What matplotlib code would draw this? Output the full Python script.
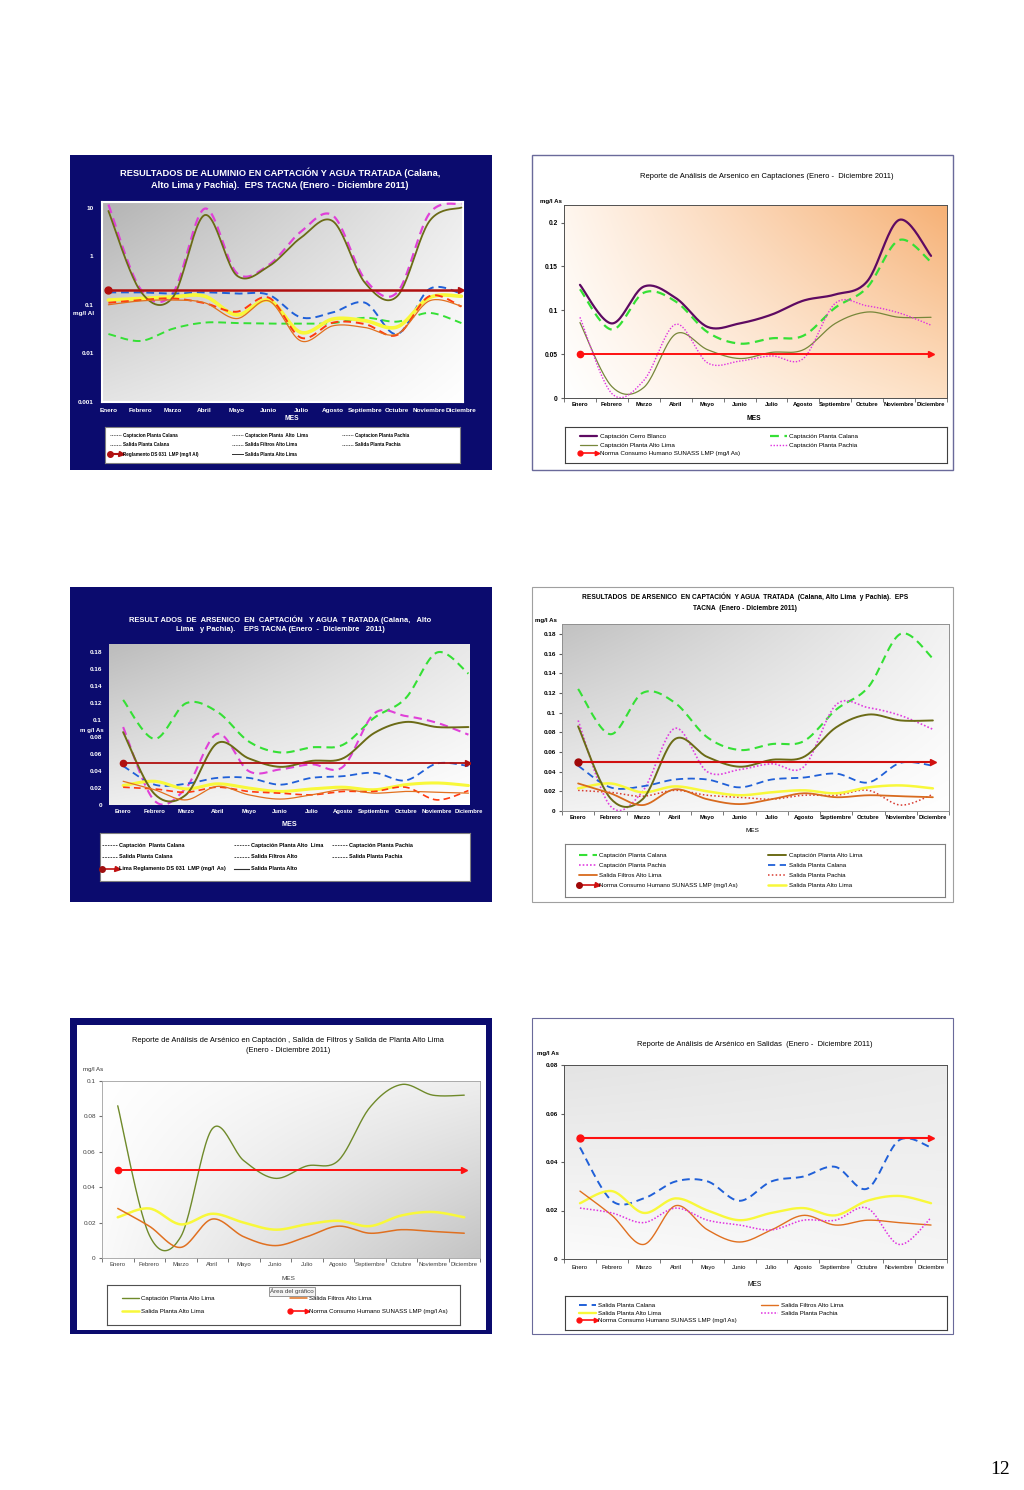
import numpy as np
import matplotlib
matplotlib.use("Agg")
from matplotlib import pyplot as plt
from matplotlib import font_manager
from matplotlib.patches import Rectangle
from matplotlib.lines import Line2D
from matplotlib.legend_handler import HandlerBase

W, H = 1024, 1490

meses = ['Enero', 'Febrero', 'Marzo', 'Abril', 'Mayo', 'Junio', 'Julio',
         'Agosto', 'Septiembre', 'Octubre', 'Noviembre', 'Diciembre']

# aluminio (mg/l Al), log scale chart
al_capt_calana = [0.025, 0.018, 0.032, 0.043, 0.042, 0.041, 0.041, 0.042, 0.054, 0.045, 0.068, 0.042]
al_capt_alto_lima = [8.5, 0.19, 0.14, 7.0, 0.40, 0.62, 2.4, 5.2, 0.28, 0.15, 5.2, 10.0]
al_capt_pachia = [11.5, 0.21, 0.17, 9.5, 0.45, 0.66, 3.2, 6.8, 0.33, 0.18, 7.5, 12.0]
al_sal_calana = [0.18, 0.18, 0.17, 0.18, 0.17, 0.16, 0.055, 0.07, 0.11, 0.025, 0.21, 0.17]
al_sal_filtros = [0.10, 0.12, 0.125, 0.11, 0.052, 0.12, 0.018, 0.037, 0.034, 0.025, 0.12, 0.094]
al_sal_pachia = [0.11, 0.125, 0.135, 0.108, 0.072, 0.14, 0.021, 0.043, 0.040, 0.024, 0.15, 0.092]
al_sal_alto_lima = [0.125, 0.135, 0.145, 0.15, 0.062, 0.124, 0.027, 0.051, 0.047, 0.035, 0.14, 0.15]
al_reglamento = [0.2, 0.2, 0.2, 0.2, 0.2, 0.2, 0.2, 0.2, 0.2, 0.2, 0.2, 0.2]

# arsenico (mg/l As)
as_capt_cerro = [0.129, 0.085, 0.127, 0.114, 0.081, 0.085, 0.095, 0.111, 0.118, 0.133, 0.203, 0.162]
as_capt_calana = [0.124, 0.078, 0.120, 0.110, 0.075, 0.062, 0.068, 0.071, 0.103, 0.126, 0.180, 0.155]
as_capt_alto_lima = [0.086, 0.013, 0.012, 0.073, 0.055, 0.045, 0.052, 0.055, 0.085, 0.098, 0.092, 0.092]
as_capt_pachia = [0.092, 0.005, 0.020, 0.084, 0.040, 0.042, 0.048, 0.045, 0.108, 0.105, 0.097, 0.083]
as_sal_calana = [0.046, 0.024, 0.025, 0.032, 0.032, 0.024, 0.032, 0.034, 0.038, 0.029, 0.049, 0.046]
as_sal_filtros = [0.028, 0.018, 0.006, 0.022, 0.012, 0.007, 0.012, 0.018, 0.014, 0.016, 0.015, 0.014]
as_sal_alto_lima = [0.023, 0.028, 0.019, 0.025, 0.020, 0.016, 0.019, 0.021, 0.018, 0.024, 0.026, 0.023]
as_sal_pachia = [0.021, 0.019, 0.015, 0.021, 0.016, 0.014, 0.012, 0.016, 0.016, 0.021, 0.006, 0.017]
as_norma = [0.05, 0.05, 0.05, 0.05, 0.05, 0.05, 0.05, 0.05, 0.05, 0.05, 0.05, 0.05]

NAVY = '#0b0b6e'
GREEN = '#35e035'
MAGENTA = '#e040d8'
BLUE = '#2060d8'
ORANGE = '#e2701e'
YELLOW = '#f8f83a'
REDOR = '#ff3a10'

names = {f.name for f in font_manager.fontManager.ttflist}
NARROW = 'Liberation Sans Narrow' if 'Liberation Sans Narrow' in names else 'Liberation Sans'
SANS = 'Liberation Sans'

fig = plt.figure(figsize=(W / 100, H / 100), dpi=100)
fig.patch.set_facecolor('white')


def box(x0, y0, x1, y1):
    return [x0 / W, 1 - y1 / H, (x1 - x0) / W, (y1 - y0) / H]


def rect(x0, y0, x1, y1, fc, ec='none', lw=1):
    fig.patches.append(Rectangle((x0 / W, 1 - y1 / H), (x1 - x0) / W, (y1 - y0) / H,
                                 transform=fig.transFigure, facecolor=fc, edgecolor=ec,
                                 lw=lw, zorder=-5))


def ftext(x, y, s, **kw):
    fig.text(x / W, 1 - y / H, s, **kw)


def gradient(b, tl, tr, bl, br):
    bg = fig.add_axes(box(*b))
    bg.axis('off')
    c = [np.array(matplotlib.colors.to_rgb(k)) for k in (tl, tr, bl, br)]
    u = np.linspace(0, 1, 80)[None, :, None]
    v = np.linspace(0, 1, 80)[:, None, None]
    img = (1 - v) * ((1 - u) * c[0] + u * c[1]) + v * ((1 - u) * c[2] + u * c[3])
    bg.imshow(img, extent=[0, 1, 0, 1], aspect='auto', interpolation='bilinear')
    bg.set_xlim(0, 1)
    bg.set_ylim(0, 1)


def smooth(x, y, n=24):
    # excel-like smoothed line (bezier through the points)
    x = np.asarray(x, float)
    y = np.asarray(y, float)
    m = len(x)
    t = np.linspace(0, 1, n)[:, None]
    out = []
    P = np.column_stack([x, y])
    for i in range(m - 1):
        a = P[max(i - 1, 0)]
        b = P[i]
        c = P[i + 1]
        d = P[min(i + 2, m - 1)]
        c1 = b + (c - a) / 6
        c2 = c - (d - b) / 6
        seg = ((1 - t) ** 3) * b + 3 * ((1 - t) ** 2) * t * c1 + 3 * (1 - t) * t ** 2 * c2 + t ** 3 * c
        out.append(seg if i == 0 else seg[1:])
    out = np.vstack(out)
    return out[:, 0], out[:, 1]


def curve(ax, y, color, lw, dashes=None, log=False, z=3):
    x = np.arange(len(y))
    if log:
        sx, sy = smooth(x, np.log10(y))
        sy = 10 ** sy
    else:
        sx, sy = smooth(x, y)
    line, = ax.plot(sx, sy, color=color, lw=lw, zorder=z, solid_capstyle='round')
    if dashes:
        line.set_dashes(dashes)
    return line


def norma(ax, y, color, lw, ms, dot=None):
    x = np.arange(len(y))
    ax.plot(x, y, color=color, lw=lw, zorder=8)
    ax.plot(x[:1], y[:1], 'o', color=dot or color, ms=ms, zorder=9)
    ax.plot(x[-1:], y[-1:], '>', color=color, ms=ms * 0.9, zorder=9)


class NormaHandler(HandlerBase):
    def __init__(self, color, lw, ms, dot=None):
        super().__init__()
        self.c, self.lw, self.ms, self.dot = color, lw, ms, dot

    def create_artists(self, legend, orig, xd, yd, width, height, fontsize, trans):
        y = height / 2 - yd
        a = Line2D([-xd, width - xd], [y, y], color=self.c, lw=self.lw)
        b = Line2D([-xd], [y], marker='o', color=self.dot or self.c, ms=self.ms, lw=0)
        c = Line2D([width - xd], [y], marker='>', color=self.c, ms=self.ms * 0.9, lw=0)
        for art in (a, b, c):
            art.set_transform(trans)
        return [a, b, c]


def legend(b, handles, labels, ncol, fs, font, left, colsp, handler=None, spacing=0.6,
           hl=17, bold=False, ec='#808080'):
    # left, colsp, hl in pixels
    unit = fs * 100 / 72
    lax = fig.add_axes(box(*b))
    lax.set_xticks([])
    lax.set_yticks([])
    lax.set_facecolor('white')
    for s in lax.spines.values():
        s.set_color(ec)
        s.set_linewidth(0.8)
    kw = {}
    if handler is not None:
        kw['handler_map'] = handler
    lax.legend(handles, labels, loc='center left', ncol=ncol,
               bbox_to_anchor=((left - b[0]) / (b[2] - b[0]), 0, 1, 1), frameon=False,
               handlelength=hl / unit, labelspacing=spacing, borderaxespad=0,
               borderpad=0, handletextpad=0.4, columnspacing=colsp / unit,
               prop={'family': font, 'size': fs, 'weight': 'bold' if bold else 'normal'},
               **kw)
    return lax


def cat_axis(ax, color, fs, font, bold=False, boundaries=True, pad=2):
    ax.set_xticks(range(12))
    ax.set_xticklabels(meses, fontsize=fs, family=font, color=color,
                       weight='bold' if bold else 'normal')
    ax.tick_params(axis='x', length=0, pad=pad)
    if boundaries:
        ax.set_xticks(np.arange(-0.5, 12, 1), minor=True)
        ax.tick_params(axis='x', which='minor', length=3, color='#606060', direction='out')


# ---------------------------------------------------------------- chart 1
rect(70, 155, 492, 470, NAVY)
gradient((102, 202, 463, 402), '#b4b4b4', '#ececec', '#e4e4e4', '#ffffff')
ax1 = fig.add_axes(box(102, 202, 463, 402))
ax1.set_facecolor('none')
ax1.set_yscale('log')
ax1.set_ylim(0.001, 13)
ax1.set_xlim(-0.2, 11.05)
for s in ax1.spines.values():
    s.set_color('white')
    s.set_linewidth(1.5)
ax1.set_yticks([0.001, 0.01, 0.1, 1, 10])
ax1.set_yticklabels(['0.001', '0.01', '0.1', '1', '10'], fontsize=4.6, family=SANS,
                    weight='bold', color='white')
ax1.yaxis.set_minor_locator(matplotlib.ticker.NullLocator())
ax1.tick_params(axis='y', length=0, pad=6)
cat_axis(ax1, 'white', 4.6, SANS, bold=True, boundaries=False, pad=4)
curve(ax1, al_capt_calana, GREEN, 1.4, dashes=(4, 2.5), log=True)
curve(ax1, al_capt_pachia, MAGENTA, 1.6, dashes=(4, 2.5), log=True)
curve(ax1, al_capt_alto_lima, '#6b6b16', 1.3, log=True, z=4)
curve(ax1, al_sal_calana, BLUE, 1.4, dashes=(4, 2.5), log=True)
curve(ax1, al_sal_alto_lima, YELLOW, 2.6, log=True)
curve(ax1, al_sal_pachia, REDOR, 1.4, dashes=(4, 2.5), log=True, z=4)
curve(ax1, al_sal_filtros, ORANGE, 0.9, log=True, z=5)
norma(ax1, al_reglamento, '#b01010', 1.8, 5)
ftext(280, 173, 'RESULTADOS DE ALUMINIO EN CAPTACIÓN Y AGUA TRATADA (Calana,',
      ha='center', va='center', color='white', fontsize=6.7, weight='bold', family=SANS)
ftext(280, 185, 'Alto Lima y Pachia).  EPS TACNA (Enero - Diciembre 2011)',
      ha='center', va='center', color='white', fontsize=6.7, weight='bold', family=SANS)
ftext(94, 313, 'mg/l Al', ha='right', va='center', color='white', fontsize=4.6,
      weight='bold', family=SANS)
ftext(292, 418, 'MES', ha='center', va='center', color='white', fontsize=4.8,
      weight='bold', family=SANS)
dot = dict(color='#303030', lw=0.6, ls=(0, (1, 1)))
h1 = [Line2D([], [], **dot), Line2D([], [], **dot), Line2D([], [], color='k'),
      Line2D([], [], **dot), Line2D([], [], **dot), Line2D([], [], color='#303030', lw=0.7),
      Line2D([], [], **dot), Line2D([], [], **dot)]
l1 = ['Captacion Planta Calana', 'Salida Planta Calana', 'Reglamento DS 031  LMP (mg/l Al)',
      'Captacion Planta  Alto  Lima', 'Salida Filtros Alto Lima', 'Salida Planta Alto Lima',
      'Captacion Planta Pachia', 'Salida Planta Pachia']
legend((105, 427, 460, 463), h1, l1, 3, 3.3, SANS, 110, 34, spacing=1.0, hl=11, bold=True,
       handler={h1[2]: NormaHandler('#b01010', 1.5, 4)})

# ---------------------------------------------------------------- chart 2
rect(532, 155, 953, 470, 'white', ec='#6a6a9a', lw=1)
gradient((564, 205, 947, 398), '#fff6ee', '#f6b176', '#ffffff', '#fde0c4')
ax2 = fig.add_axes(box(564, 205, 947, 398))
ax2.set_facecolor('none')
ax2.set_xlim(-0.5, 11.5)
ax2.set_ylim(0, 0.22)
for s in ax2.spines.values():
    s.set_color('#505050')
    s.set_linewidth(0.7)
ax2.set_yticks([0, 0.05, 0.1, 0.15, 0.2])
ax2.set_yticklabels(['0', '0.05', '0.1', '0.15', '0.2'], fontsize=4.8, family=NARROW, weight='bold')
ax2.tick_params(axis='y', length=2.5, pad=2, color='#606060')
cat_axis(ax2, 'black', 4.2, NARROW, bold=True, pad=3)
c2a = curve(ax2, as_capt_cerro, '#5e0a62', 1.6)
c2b = curve(ax2, as_capt_calana, GREEN, 1.6, dashes=(4, 2.5))
c2c = curve(ax2, as_capt_alto_lima, '#77873a', 0.9)
c2d = curve(ax2, as_capt_pachia, '#e030e0', 1.0, dashes=(1, 1.2))
norma(ax2, as_norma, '#ff1010', 1.4, 4.5)
ftext(767, 176, 'Reporte de Análisis de Arsenico en Captaciones (Enero -  Diciembre 2011)',
      ha='center', va='center', fontsize=5.5, family=NARROW)
ftext(540, 202, 'mg/l As', ha='left', va='center', fontsize=4.4, family=NARROW, weight='bold')
ftext(754, 418, 'MES', ha='center', va='center', fontsize=4.8, family=NARROW, weight='bold')
hn2 = Line2D([], [], color='r')
legend((565, 427, 947, 463), [c2a, c2c, hn2, c2b, c2d],
       ['Captación Cerro Blanco', 'Captación Planta Alto Lima',
        'Norma Consumo Humano SUNASS LMP (mg/l As)', 'Captación Planta Calana',
        'Captación Planta Pachia'], 2, 4.5, NARROW, 580, 30, spacing=0.55,
       handler={hn2: NormaHandler('#ff1010', 1.2, 3.5)}, ec='#404040')

# ---------------------------------------------------------------- chart 3
rect(70, 587, 492, 902, NAVY)
gradient((109, 644, 470, 805), '#bcbcbc', '#e8e8e8', '#eeeeee', '#ffffff')
ax3 = fig.add_axes(box(109, 644, 470, 805))
ax3.set_facecolor('none')
ax3.set_xlim(-0.45, 11.05)
ax3.set_ylim(0, 0.19)
for s in ax3.spines.values():
    s.set_visible(False)
ax3.set_yticks(np.arange(0, 0.181, 0.02))
ax3.set_yticklabels(['0', '0.02', '0.04', '0.06', '0.08', '0.1', '0.12', '0.14', '0.16', '0.18'],
                    fontsize=4.6, family=SANS, weight='bold', color='white')
ax3.tick_params(axis='y', length=0, pad=5)
cat_axis(ax3, 'white', 4.2, SANS, bold=True, boundaries=False, pad=3)
curve(ax3, as_capt_calana, GREEN, 1.5, dashes=(4, 2.5))
curve(ax3, as_capt_pachia, MAGENTA, 1.5, dashes=(4, 2.5))
curve(ax3, as_capt_alto_lima, '#6b6b16', 1.4, z=4)
curve(ax3, as_sal_calana, BLUE, 1.3, dashes=(4, 2.5))
curve(ax3, as_sal_alto_lima, YELLOW, 2.2)
curve(ax3, as_sal_pachia, REDOR, 1.2, dashes=(4, 2.5), z=4)
curve(ax3, as_sal_filtros, ORANGE, 0.9, z=5)
norma(ax3, as_norma, '#b01010', 1.3, 4.5)
ftext(280, 620, 'RESULT ADOS  DE  ARSENICO  EN  CAPTACIÓN   Y AGUA  T RATADA (Calana,   Alto',
      ha='center', va='center', color='white', fontsize=5.4, weight='bold', family=SANS)
ftext(280, 629, 'Lima   y Pachia).    EPS TACNA (Enero  -  Diciembre   2011)',
      ha='center', va='center', color='white', fontsize=5.4, weight='bold', family=SANS)
ftext(104, 731, 'm g/l As', ha='right', va='center', color='white', fontsize=4.4,
      weight='bold', family=SANS)
ftext(289, 824, 'MES', ha='center', va='center', color='white', fontsize=5.2,
      weight='bold', family=SANS)
dash = dict(color='#303030', lw=0.6, ls=(0, (2, 1.2)))
h3 = [Line2D([], [], **dash), Line2D([], [], **dash), Line2D([], [], color='k'),
      Line2D([], [], **dash), Line2D([], [], **dash), Line2D([], [], color='#303030', lw=0.8),
      Line2D([], [], **dash), Line2D([], [], **dash)]
l3 = ['Captación  Planta Calana', 'Salida Planta Calana', 'Lima Reglamento DS 031  LMP (mg/l  As)',
      'Captación Planta Alto  Lima', 'Salida Filtros Alto', 'Salida Planta Alto',
      'Captación Planta Pachia', 'Salida Planta Pachia']
legend((100, 833, 470, 881), h3, l3, 3, 4.0, SANS, 102, 8, spacing=1.25, hl=15, bold=True,
       handler={h3[2]: NormaHandler('#c01010', 1.2, 4, dot='#a01010')})

# ---------------------------------------------------------------- chart 4
rect(532, 587, 953, 902, 'white', ec='#a0a0a0', lw=0.8)
gradient((562, 624, 949, 811), '#c2c2c2', '#f2f2f2', '#f2f2f2', '#ffffff')
ax4 = fig.add_axes(box(562, 624, 949, 811))
ax4.set_facecolor('none')
ax4.set_xlim(-0.5, 11.3)
ax4.set_ylim(0, 0.19)
for s in ax4.spines.values():
    s.set_color('#909090')
    s.set_linewidth(0.7)
ax4.set_yticks(np.arange(0, 0.181, 0.02))
ax4.set_yticklabels(['0', '0.02', '0.04', '0.06', '0.08', '0.1', '0.12', '0.14', '0.16', '0.18'],
                    fontsize=4.6, family=NARROW, weight='bold')
ax4.tick_params(axis='y', length=2.5, pad=2, color='#606060')
cat_axis(ax4, 'black', 4.2, NARROW, bold=True, pad=3)
c4a = curve(ax4, as_capt_calana, GREEN, 1.5, dashes=(4, 2.5))
c4b = curve(ax4, as_capt_alto_lima, '#6b6b16', 1.4, z=4)
c4c = curve(ax4, as_capt_pachia, '#e040e0', 1.2, dashes=(1, 1.2))
c4d = curve(ax4, as_sal_calana, BLUE, 1.3, dashes=(4, 2.5))
c4e = curve(ax4, as_sal_filtros, '#d86a1e', 1.3, z=5)
c4f = curve(ax4, as_sal_pachia, '#d83a30', 1.1, dashes=(1, 1.5))
c4g = curve(ax4, as_sal_alto_lima, YELLOW, 1.8)
norma(ax4, as_norma, '#d01010', 1.5, 5, dot='#a00808')
ftext(745, 597, 'RESULTADOS  DE ARSENICO  EN CAPTACIÓN  Y AGUA  TRATADA  (Calana, Alto Lima  y Pachia).  EPS',
      ha='center', va='center', fontsize=4.8, weight='bold', family=NARROW)
ftext(745, 609, 'TACNA  (Enero - Diciembre 2011)', ha='center', va='center', fontsize=4.8,
      weight='bold', family=NARROW)
ftext(535, 621, 'mg/l As', ha='left', va='center', fontsize=4.4, family=NARROW, weight='bold')
ftext(752, 831, 'MES', ha='center', va='center', fontsize=4.6, family=NARROW)
hn4 = Line2D([], [], color='r')
legend((565, 844, 945, 897), [c4a, c4c, c4e, hn4, c4b, c4d, c4f, c4g],
       ['Captación Planta Calana', 'Captación Planta Pachia', 'Salida Filtros Alto Lima',
        'Norma Consumo Humano SUNASS LMP (mg/l As)', 'Captación Planta Alto Lima',
        'Salida Planta Calana', 'Salida Planta Pachia', 'Salida Planta Alto Lima'],
       2, 4.4, NARROW, 579, 30, spacing=0.75, hl=18,
       handler={hn4: NormaHandler('#d01010', 1.2, 4, dot='#a00808')})

# ---------------------------------------------------------------- chart 5
rect(70, 1018, 492, 1334, NAVY)
rect(77, 1025, 486, 1330, 'white')
gradient((102, 1081, 480, 1258), '#ffffff', '#eeeeee', '#fafafa', '#c4c4c4')
ax5 = fig.add_axes(box(102, 1081, 480, 1258))
ax5.set_facecolor('none')
ax5.set_xlim(-0.5, 11.5)
ax5.set_ylim(0, 0.1)
for s in ax5.spines.values():
    s.set_color('#a0a0a0')
    s.set_linewidth(0.6)
ax5.set_yticks([0, 0.02, 0.04, 0.06, 0.08, 0.1])
ax5.set_yticklabels(['0', '0.02', '0.04', '0.06', '0.08', '0.1'], fontsize=4.6,
                    family=NARROW, color='#404040')
ax5.tick_params(axis='y', length=2.5, pad=2, color='#707070')
cat_axis(ax5, '#404040', 4.3, NARROW, pad=3)
c5a = curve(ax5, as_capt_alto_lima, '#6f8a2a', 1.0)
c5b = curve(ax5, as_sal_alto_lima, YELLOW, 1.8)
c5c = curve(ax5, as_sal_filtros, '#e07020', 1.1)
norma(ax5, as_norma, '#ff1010', 1.4, 4.5)
ftext(288, 1041, 'Reporte de Análisis de Arsénico en Captación , Salida de Filtros y Salida de Planta Alto Lima',
      ha='center', va='center', fontsize=5.4, family=NARROW)
ftext(288, 1051, '(Enero - Diciembre 2011)', ha='center', va='center', fontsize=5.4, family=NARROW)
ftext(83, 1070, 'mg/l As', ha='left', va='center', fontsize=4.4, family=NARROW, color='#303030')
ftext(288, 1279, 'MES', ha='center', va='center', fontsize=4.6, family=NARROW, color='#404040')
hn5 = Line2D([], [], color='r')
legend((107, 1285, 460, 1325), [c5a, c5b, c5c, hn5],
       ['Captación Planta Alto Lima', 'Salida Planta Alto Lima', 'Salida Filtros Alto Lima',
        'Norma Consumo Humano SUNASS LMP (mg/l As)'], 2, 4.4, NARROW, 122, 75, spacing=1.3,
       handler={hn5: NormaHandler('#ff1010', 1.2, 3.5)}, ec='#505050')
ftext(292, 1291.5, 'Área del gráfico', ha='center', va='center', fontsize=4.5, family=SANS,
      color='#404040', zorder=30,
      bbox=dict(boxstyle='square,pad=0.25', fc='#f4f4f4', ec='#707070', lw=0.5))

# ---------------------------------------------------------------- chart 6
rect(532, 1018, 953, 1334, 'white', ec='#6a6a9a', lw=0.8)
gradient((564, 1065, 947, 1259), '#e4e4e4', '#eaeaea', '#fbfbfb', '#f5f5f5')
ax6 = fig.add_axes(box(564, 1065, 947, 1259))
ax6.set_facecolor('none')
ax6.set_xlim(-0.5, 11.5)
ax6.set_ylim(0, 0.08)
for s in ax6.spines.values():
    s.set_color('#505050')
    s.set_linewidth(0.7)
ax6.set_yticks([0, 0.02, 0.04, 0.06, 0.08])
ax6.set_yticklabels(['0', '0.02', '0.04', '0.06', '0.08'], fontsize=4.6, family=NARROW,
                    weight='bold')
ax6.tick_params(axis='y', length=2.5, pad=2, color='#606060')
cat_axis(ax6, 'black', 4.3, NARROW, pad=4)
c6a = curve(ax6, as_sal_calana, BLUE, 1.4, dashes=(4, 2.5))
c6b = curve(ax6, as_sal_alto_lima, YELLOW, 1.7)
c6c = curve(ax6, as_sal_filtros, '#e07020', 1.0, z=4)
c6d = curve(ax6, as_sal_pachia, '#e030e0', 1.1, dashes=(1, 1.2), z=4)
norma(ax6, as_norma, '#ff1010', 1.5, 5)
ftext(755, 1045, 'Reporte de Análisis de Arsénico en Salidas  (Enero -  Diciembre 2011)',
      ha='center', va='center', fontsize=5.4, family=NARROW)
ftext(537, 1053, 'mg/l As', ha='left', va='center', fontsize=4.4, family=NARROW, weight='bold')
ftext(755, 1285, 'MES', ha='center', va='center', fontsize=4.8, family=NARROW)
hn6 = Line2D([], [], color='r')
legend((565, 1296, 947, 1330), [c6a, c6b, hn6, c6c, c6d],
       ['Salida Planta Calana', 'Salida Planta Alto Lima',
        'Norma Consumo Humano SUNASS LMP (mg/l As)', 'Salida Filtros Alto Lima',
        'Salida Planta Pachia'], 2, 4.4, NARROW, 579, 24, spacing=0.35,
       handler={hn6: NormaHandler('#ff1010', 1.2, 3.5)}, ec='#404040')

ftext(1000, 1470, '12', ha='center', va='center', fontsize=14, family='Liberation Serif')

fig.savefig('out.png', dpi=100, facecolor='white')
